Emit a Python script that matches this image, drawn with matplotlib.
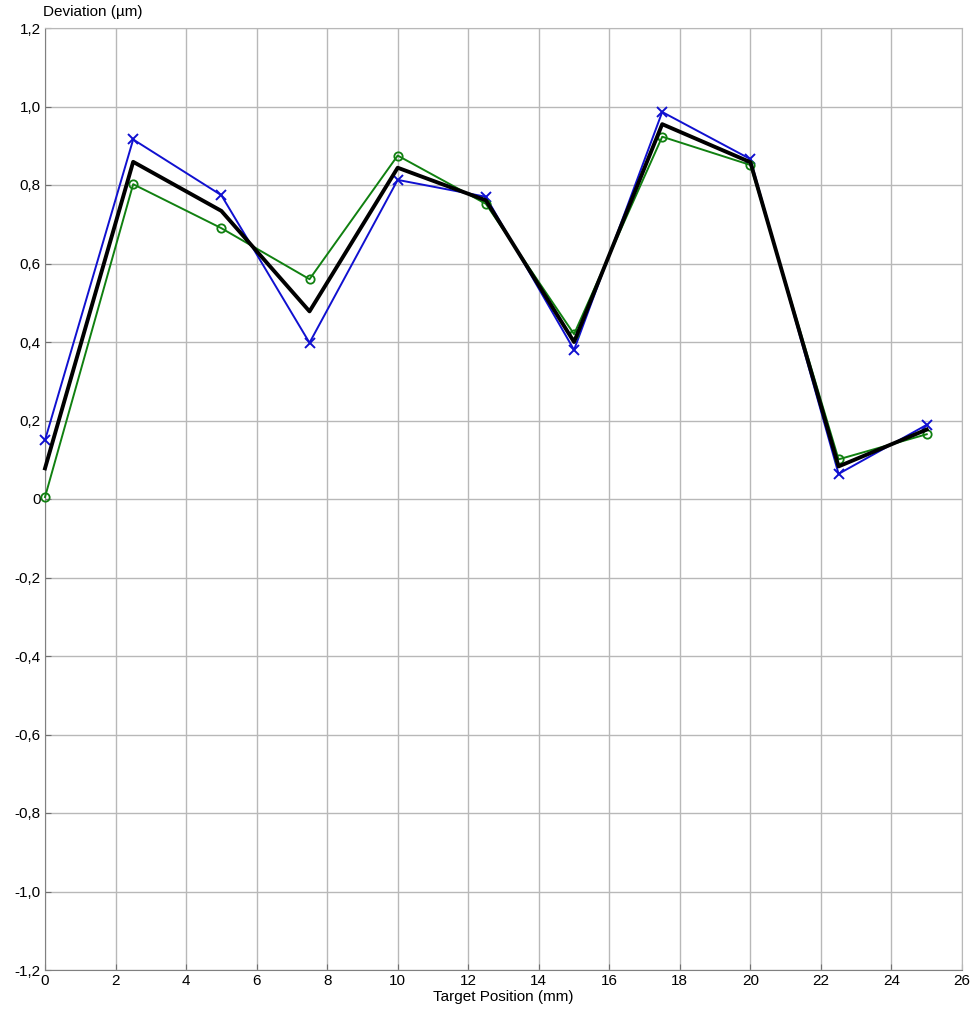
import matplotlib
matplotlib.use("Agg")
import matplotlib.pyplot as plt
from matplotlib.ticker import FuncFormatter

plt.rcParams['font.family'] = ['Liberation Sans', 'DejaVu Sans']

positions = [0, 2.5, 5, 7.5, 10, 12.5, 15, 17.5, 20, 22.5, 25]
run_forward = [0.150, 0.916, 0.774, 0.398, 0.813, 0.770, 0.380, 0.986, 0.866, 0.064, 0.189]
run_backward = [0.005, 0.802, 0.690, 0.560, 0.875, 0.752, 0.420, 0.923, 0.851, 0.101, 0.165]
mean_dev = [0.078, 0.859, 0.734, 0.478, 0.844, 0.761, 0.400, 0.955, 0.858, 0.083, 0.177]

x_ticks = list(range(0, 27, 2))
y_ticks = [-1.2, -1.0, -0.8, -0.6, -0.4, -0.2, 0, 0.2, 0.4, 0.6, 0.8, 1.0, 1.2]

fig = plt.figure(figsize=(9.75, 10.14), dpi=100)
ax = fig.add_axes([45/975, 44/1014, 917/975, 942/1014])

ax.plot(positions, run_forward, color='#1010d0', lw=1.4, marker='x', ms=7, mew=1.4,
        zorder=3, clip_on=False)
ax.plot(positions, run_backward, color='#108010', lw=1.4, marker='o', ms=6, mew=1.3,
        mfc='none', zorder=3, clip_on=False)
ax.plot(positions, mean_dev, color='black', lw=2.8, zorder=4, clip_on=False)

ax.set_xlim(0, 26)
ax.set_ylim(-1.2, 1.2)
ax.set_xticks(x_ticks)
ax.set_yticks(y_ticks)

def fmt(v, pos):
    if abs(v) < 1e-9:
        return "0"
    return f"{v:.1f}".replace('.', ',')

ax.yaxis.set_major_formatter(FuncFormatter(fmt))
ax.grid(True, color='#b8b8b8', lw=1.0)
ax.set_axisbelow(True)
ax.tick_params(direction='in', length=4, color='#707070', labelsize=11, pad=3)
for s in ['top', 'right']:
    ax.spines[s].set_color('#b8b8b8')
for s in ['left', 'bottom']:
    ax.spines[s].set_color('#808080')

fig.text(43/975, 1 - 12/1014, "Deviation (\u00b5m)", fontsize=11, ha='left', va='center')
ax.set_xlabel("Target Position (mm)", fontsize=11, labelpad=1)

fig.savefig("out.png", dpi=100)
